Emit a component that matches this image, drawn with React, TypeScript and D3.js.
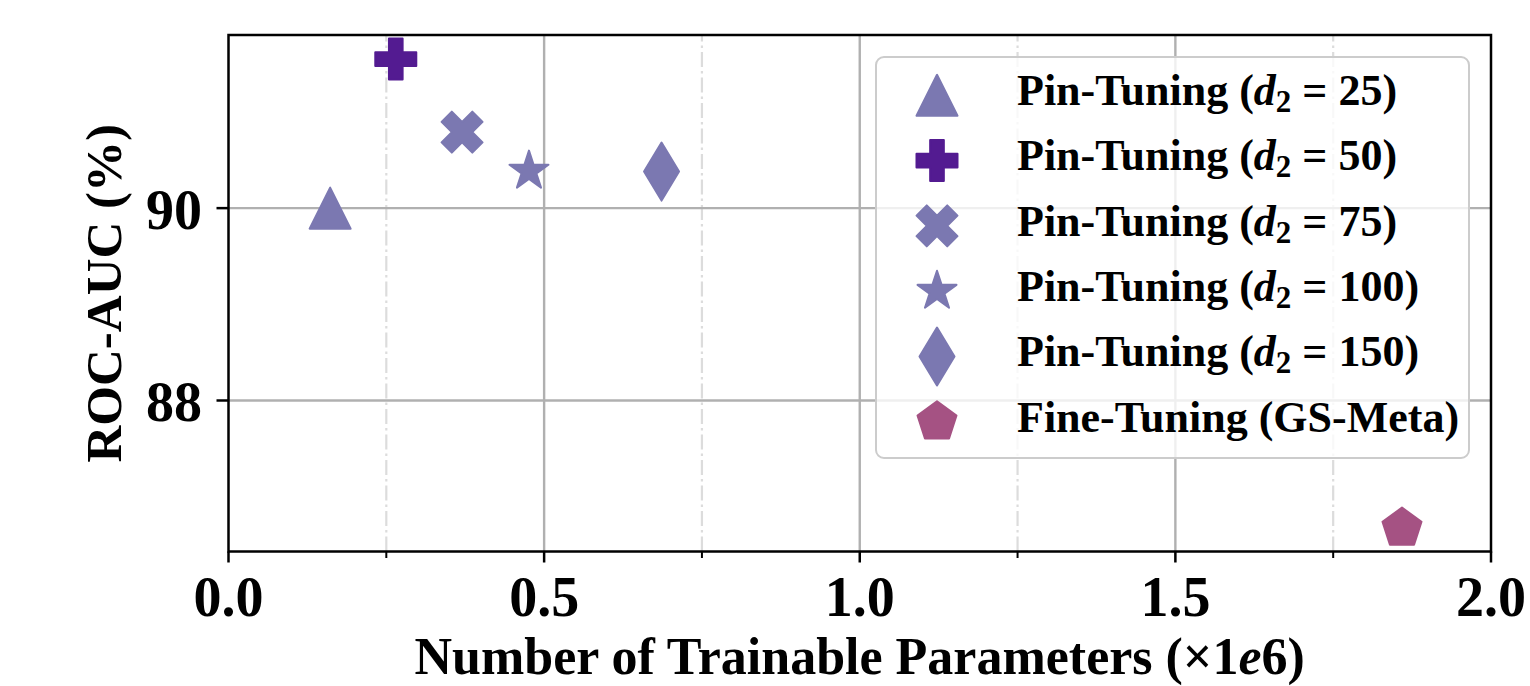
import React from "react";
import * as d3 from "d3";

const labels = ["Pin-Tuning", "Pin-Tuning", "Pin-Tuning", "Pin-Tuning", "Pin-Tuning", "Fine-Tuning (GS-Meta)"];
const d2Values: (number | null)[] = [25, 50, 75, 100, 150, null];
const params = [0.161, 0.265, 0.37, 0.476, 0.686, 1.859];
const aucs = [90.0, 91.55, 90.79, 90.385, 90.38, 86.673];
const markers = ["triangle", "plus", "x", "star", "thin_diamond", "pentagon"];
const colors = ["#7b78b1", "#531b91", "#7b78b1", "#7b78b1", "#7b78b1", "#a55283"];
const xTicks = [0, 0.5, 1.0, 1.5, 2.0];
const xMinorTicks = [0.25, 0.75, 1.25, 1.75];
const yTicks = [88, 90];

const W = 1530, H = 686;
const FONT = "'Liberation Serif', 'Times New Roman', serif";

function poly(pts: [number, number][], cx: number, cy: number) {
  const p = d3.path();
  pts.forEach(([x, y], i) => (i === 0 ? p.moveTo(cx + x, cy + y) : p.lineTo(cx + x, cy + y)));
  p.closePath();
  return p.toString();
}

function markerPath(kind: string, cx: number, cy: number, s = 41) {
  const h = s / 2;
  if (kind === "triangle") return poly([[0, -h], [-h, h], [h, h]], cx, cy);
  if (kind === "plus") {
    const a = s / 6;
    return poly([[-a, -3 * a], [a, -3 * a], [a, -a], [3 * a, -a], [3 * a, a], [a, a], [a, 3 * a], [-a, 3 * a], [-a, a], [-3 * a, a], [-3 * a, -a], [-a, -a]], cx, cy);
  }
  if (kind === "x") {
    const u = s / 4;
    return poly([[-u, -2 * u], [0, -u], [u, -2 * u], [2 * u, -u], [u, 0], [2 * u, u], [u, 2 * u], [0, u], [-u, 2 * u], [-2 * u, u], [-u, 0], [-2 * u, -u]], cx, cy);
  }
  if (kind === "star") {
    const pts: [number, number][] = [];
    for (let i = 0; i < 10; i++) {
      const r = i % 2 === 0 ? h : h * 0.381966;
      const ang = -Math.PI / 2 + (i * Math.PI) / 5;
      pts.push([r * Math.cos(ang), r * Math.sin(ang)]);
    }
    return poly(pts, cx, cy);
  }
  if (kind === "thin_diamond") {
    return poly([[0, -29], [17.5, 0], [0, 29], [-17.5, 0]], cx, cy);
  }
  if (kind === "pentagon") {
    const pts: [number, number][] = [];
    for (let i = 0; i < 5; i++) {
      const ang = -Math.PI / 2 + (i * 2 * Math.PI) / 5;
      pts.push([h * Math.cos(ang), h * Math.sin(ang)]);
    }
    return poly(pts, cx, cy);
  }
  return "";
}

export default function App() {
  const x = d3.scaleLinear().domain([0, 2]).range([228.5, 1491]);
  const y = d3.scaleLinear().domain([86.43, 91.8]).range([551.5, 35]);
  const [x0, x1] = x.range();
  const [yb, yt] = y.range();

  const legX = 876, legY = 57, legW = 593, legH = 401;
  const rowY0 = 95.3, rowStep = 65.3;

  return (
    <div style={{ position: "fixed", left: 0, top: 0 }}>
      <svg width={W} height={H} style={{ display: "block", background: "#fff" }} fontFamily={FONT}>
        <rect x={0} y={0} width={W} height={H} fill="#fff" />
        {/* minor grid */}
        {xMinorTicks.map((t) => (
          <line key={"mg" + t} x1={x(t)} x2={x(t)} y1={yb} y2={yt} stroke="#dcdcdc" strokeWidth={2.2} strokeDasharray="15,4,2.5,4" />
        ))}
        {/* major grid */}
        {xTicks.slice(1, -1).map((t) => (
          <line key={"gx" + t} x1={x(t)} x2={x(t)} y1={yb} y2={yt} stroke="#b0b0b0" strokeWidth={2.4} />
        ))}
        {yTicks.map((t) => (
          <line key={"gy" + t} x1={x0} x2={x1} y1={y(t)} y2={y(t)} stroke="#b0b0b0" strokeWidth={2.4} />
        ))}
        {/* points */}
        {params.map((p, i) => (
          <path key={"pt" + i} d={markerPath(markers[i], x(p), y(aucs[i]))} fill={colors[i]} stroke={colors[i]} strokeWidth={2} strokeLinejoin="round" />
        ))}
        {/* legend */}
        <rect x={legX} y={legY} width={legW} height={legH} rx={8} ry={8} fill="#fff" fillOpacity={0.8} stroke="#cccccc" strokeWidth={2} />
        {labels.map((lab, i) => {
          const cy = rowY0 + i * rowStep;
          const d2 = d2Values[i];
          return (
            <g key={"lg" + i}>
              <path d={markerPath(markers[i], 937, cy)} fill={colors[i]} stroke={colors[i]} strokeWidth={2} strokeLinejoin="round" />
              <text x={1017} y={cy + 9.7} fontSize={44} fontWeight="bold" fill="#000">
                {d2 === null ? (
                  lab
                ) : (
                  <>
                    <tspan>{lab + " ("}</tspan>
                    <tspan fontStyle="italic">d</tspan>
                    <tspan fontSize={31} dy={7}>2</tspan>
                    <tspan dy={-7}>{" = " + d2 + ")"}</tspan>
                  </>
                )}
              </text>
            </g>
          );
        })}
        {/* spines */}
        <rect x={x0} y={yt} width={x1 - x0} height={yb - yt} fill="none" stroke="#000" strokeWidth={2.5} />
        {/* x ticks */}
        {xTicks.map((t) => (
          <g key={"xt" + t}>
            <line x1={x(t)} x2={x(t)} y1={yb} y2={yb + 11} stroke="#000" strokeWidth={2.5} />
            <text x={x(t)} y={616} textAnchor="middle" fontSize={56} fontWeight="bold">
              {d3.format(".1f")(t)}
            </text>
          </g>
        ))}
        {xMinorTicks.map((t) => (
          <line key={"xm" + t} x1={x(t)} x2={x(t)} y1={yb} y2={yb + 6.5} stroke="#000" strokeWidth={2} />
        ))}
        {/* y ticks */}
        {yTicks.map((t) => (
          <g key={"yt" + t}>
            <line x1={x0 - 12} x2={x0} y1={y(t)} y2={y(t)} stroke="#000" strokeWidth={2.5} />
            <text x={202} y={y(t) + 21} textAnchor="end" fontSize={56} fontWeight="bold">
              {t}
            </text>
          </g>
        ))}
        {/* axis labels */}
        <text x={(x0 + x1) / 2} y={674} textAnchor="middle" fontSize={52} fontWeight="bold">
          <tspan>Number of Trainable Parameters (×1</tspan>
          <tspan fontStyle="italic">e</tspan>
          <tspan>6)</tspan>
        </text>
        <text transform={`translate(121,${(yt + yb) / 2}) rotate(-90)`} textAnchor="middle" fontSize={51} fontWeight="bold">
          ROC-AUC (%)
        </text>
      </svg>
    </div>
  );
}
